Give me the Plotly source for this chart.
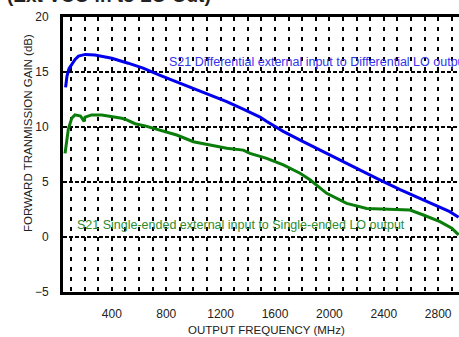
import plotly.graph_objects as go

# S21 differential (blue)
diff_freq = [60, 70, 85, 105, 130, 155, 205, 275, 400, 520, 630, 755, 875, 1000, 1120,
             1245, 1370, 1490, 1540, 1660, 1785, 1905, 2030, 2150, 2275, 2370, 2520,
             2690, 2885, 2950]
diff_gain = [13.6, 14.6, 15.3, 15.7, 16.15, 16.45, 16.6, 16.55, 16.25, 15.8, 15.35, 14.7,
             14.1, 13.5, 12.9, 12.3, 11.6, 10.9, 10.5, 9.6, 8.8, 8.05, 7.3, 6.55, 5.8,
             5.2, 4.3, 3.4, 2.3, 1.8]

# S21 single-ended (green)
se_freq = [56, 68, 80, 105, 129, 170, 196, 203, 252, 326, 400, 473, 510, 571, 644, 754,
           877, 1000, 1122, 1245, 1367, 1416, 1539, 1661, 1784, 1857, 1980, 2127, 2274,
           2400, 2519, 2593, 2691, 2813, 2900, 2950]
se_gain = [7.6, 9.0, 9.8, 10.8, 11.1, 11.0, 10.5, 10.9, 11.1, 11.1, 10.95, 10.8, 10.65,
           10.3, 10.1, 9.7, 9.27, 8.66, 8.36, 8.06, 7.9, 7.6, 7.15, 6.55, 5.8, 5.2, 3.97,
           3.06, 2.6, 2.55, 2.5, 2.45, 2.0, 1.4, 0.8, 0.2]

x_ticks = [400, 800, 1200, 1600, 2000, 2400, 2800]
y_ticks = [-5, 0, 5, 10, 15, 20]

font = "Arial, Liberation Sans, sans-serif"

fig = go.Figure()
fig.add_trace(go.Scatter(x=diff_freq, y=diff_gain, mode="lines",
                         line=dict(color="#0000ee", width=3), showlegend=False))
fig.add_trace(go.Scatter(x=se_freq, y=se_gain, mode="lines",
                         line=dict(color="#0a7d0a", width=3), showlegend=False))

fig.update_layout(
    width=459, height=337,
    margin=dict(l=63, r=0, t=17, b=45),
    paper_bgcolor="white", plot_bgcolor="white",
    font=dict(family=font, size=12, color="#222"),
    xaxis=dict(
        range=[41, 2953], tickvals=x_ticks, showline=True, linewidth=3,
        linecolor="black", mirror=True, ticks="", ticklabelstandoff=9,
        automargin=False,
        showgrid=True, gridcolor="black", gridwidth=2, griddash="4px,6px",
        minor=dict(dtick=100, tick0=0, showgrid=True, gridcolor="black",
                   gridwidth=2, griddash="4px,6px"),
        zeroline=False,
    ),
    yaxis=dict(
        range=[-5, 20], tickvals=y_ticks, showline=True, linewidth=3,
        linecolor="black", ticks="", ticklabelstandoff=9, automargin=False,
        showgrid=True, gridcolor="black", gridwidth=2, griddash="4px,2px",
        zeroline=False,
    ),
    annotations=[
        dict(text="<b>(Ext VCO in to LO Out)</b>", xref="paper", yref="paper",
             x=-0.1465, y=1.031, xanchor="left", yanchor="bottom",
             showarrow=False, font=dict(size=19, color="#222")),
        dict(text="FORWARD TRANMISSION GAIN (dB)", xref="paper", yref="paper",
             x=-0.1086, y=0.578, textangle=-90, showarrow=False,
             font=dict(size=11.5, color="#222")),
        dict(text="OUTPUT FREQUENCY (MHz)", xref="paper", yref="paper",
             x=0.515, y=-0.138, yanchor="middle", showarrow=False,
             font=dict(size=11.5, color="#222")),
        dict(text="S21 Differential external input to Differential LO output",
             x=806, y=15.9, xanchor="left", yanchor="middle", showarrow=False,
             font=dict(size=12.5, color="#3333ee")),
        dict(text="S21 Single-ended external input to Single-ended LO output",
             x=129, y=1.1, xanchor="left", yanchor="middle", showarrow=False,
             font=dict(size=12.5, color="#2e8b2e")),
    ],
)

# drop the page's default body margin so the figure sits at the window corner
fig.write_html("out.html", config={"displayModeBar": False},
               post_script="document.body.style.margin='0';")
